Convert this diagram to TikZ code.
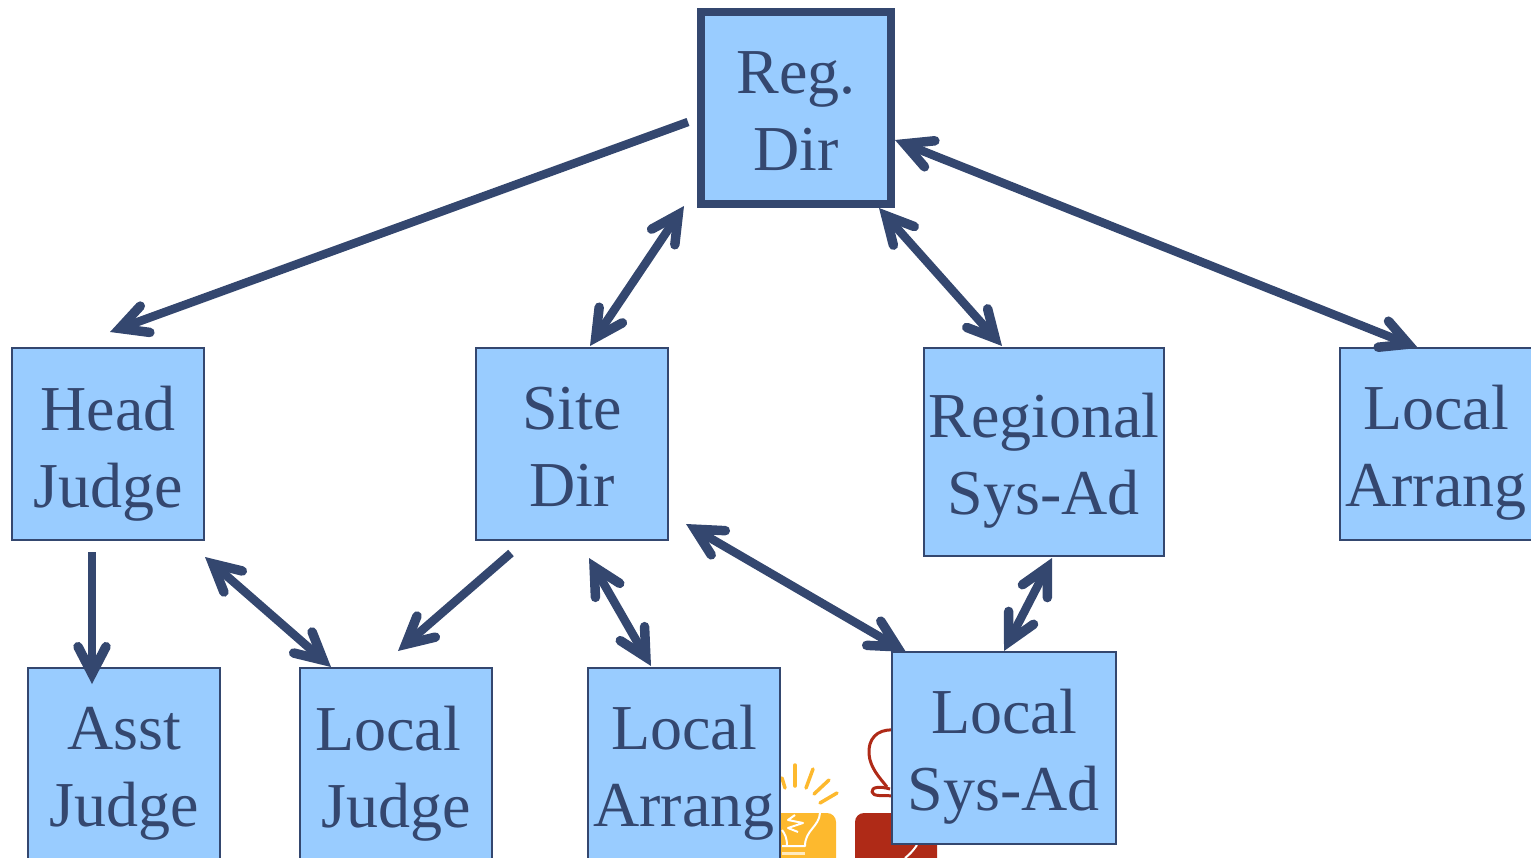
\documentclass[tikz,border=0pt]{standalone}
\usepackage{fontspec}
\setmainfont{Liberation Serif}
\usetikzlibrary{arrows.meta}
\definecolor{ink}{HTML}{34476F}
\definecolor{boxfill}{HTML}{99CCFF}
\definecolor{bulbyellow}{HTML}{FDB92E}
\definecolor{iconred}{HTML}{AF2A17}
\newcommand{\twolines}[3]{\rule{0pt}{#1pt}#2\\#3\rule[-14pt]{0pt}{14pt}}
\tikzset{
  x=1pt,y=-1pt,
  box/.style={draw=ink,fill=boxfill,line width=2pt,text=ink,align=center,inner sep=0pt,
    font=\fontsize{64}{77}\selectfont},
  sq/.style={box,minimum width=192pt,minimum height=192pt},
  conn/.style={draw=ink,line width=8.5pt},
  tip/.tip={Straight Barb[length=27pt,width=28pt,line width=9.5pt,line cap=round,line join=miter]},
  one/.style={conn,-{tip}},
  two/.style={conn,{tip}-{tip}},
  ray/.style={bulbyellow,line width=3.5pt,line cap=round},
  bulbline/.style={white,line width=2pt,line join=round}
}
\begin{document}
\begin{tikzpicture}
\useasboundingbox (0,0) rectangle (1531,858);
\clip (0,0) rectangle (1531,858);
% icons behind the boxes
\fill[bulbyellow,rounded corners=9pt] (740,813) rectangle (836,880);
\draw[ray] (795,765) -- (795,786);
\draw[ray] (813,769) -- (806,788);
\draw[ray] (829,780) -- (814,794);
\draw[ray] (837,793) -- (820,803);
\draw[ray] (782,778) -- (785,788);
\draw[bulbline] (820,813) .. controls (819,827) and (805,830) .. (805,846) -- (782,846);
\draw[bulbline] (782,830) .. controls (785,834) and (787,838) .. (787,846);
\draw[bulbline] (795,815) -- (788,820) -- (803,823) -- (788,828) -- (798,832);
\draw[white!70!bulbyellow,line width=3pt] (782,853) -- (805,853);
\fill[iconred,rounded corners=9pt] (855,813) rectangle (937,880);
\draw[iconred,line width=3pt,line join=round] (893,730) .. controls (876,729) and (868,740) .. (869,754)
  .. controls (870,768) and (880,778) .. (887,787);
\draw[iconred,line width=3pt,line join=round] (890,789) .. controls (880,786) and (871,787) .. (872,792)
  .. controls (873,797) and (883,795) .. (893,796);
\draw[white,line width=2pt] (917,845) .. controls (913,851) and (909,855) .. (905,858);
% boxes
\node[box,line width=8pt,minimum width=190pt,minimum height=192pt] (reg) at (796,108) {\twolines{63}{Reg.}{Dir}};
\node[sq] (head) at (108,444) {\twolines{63}{Head}{Judge}};
\node[sq] (site) at (572,444) {\twolines{61.6}{Site}{Dir}};
\node[box,minimum width=240pt,minimum height=208pt] (rsys) at (1044,452) {\twolines{62}{Regional}{Sys-Ad}};
\node[sq] (rarr) at (1436,444) {\twolines{61}{Local}{Arrang}};
\node[sq] (asst) at (124,764) {\twolines{61}{Asst}{Judge}};
\node[sq] (ljudge) at (396,764) {\twolines{63}{Local\hspace*{16pt}}{Judge}};
\node[sq] (larr) at (684,764) {\twolines{61}{Local}{Arrang}};
\node[box,minimum width=224pt,minimum height=192pt] (lsys) at (1004,748) {\twolines{61}{Local}{Sys-Ad}};
% connectors
\draw[one] ([shift={(-108,14)}]reg.center) -- ([shift={(2,-112)}]head.center);
\draw[two] ([shift={(-112,98)}]reg.center) -- ([shift={(18,-98)}]site.center);
\draw[two] ([shift={(83,100)}]reg.center) -- ([shift={(-42,-106)}]rsys.center);
\draw[two] ([shift={(99,32)}]reg.center) -- ([shift={(-18,-96)}]rarr.center);
\draw[one] ([shift={(-16,108)}]head.center) -- ([shift={(-32,-80)}]asst.center);
\draw[two] ([shift={(97,113)}]head.center) -- ([shift={(-65,-97)}]ljudge.center);
\draw[one] ([shift={(-61,109)}]site.center) -- ([shift={(2,-113)}]ljudge.center);
\draw[two] ([shift={(17,114)}]site.center) -- ([shift={(-33,-98)}]larr.center);
\draw[two] ([shift={(114,80)}]site.center) -- ([shift={(-98,-96)}]lsys.center);
\draw[two] ([shift={(8,106)}]rsys.center) -- ([shift={(0,-97)}]lsys.center);
\end{tikzpicture}
\end{document}
